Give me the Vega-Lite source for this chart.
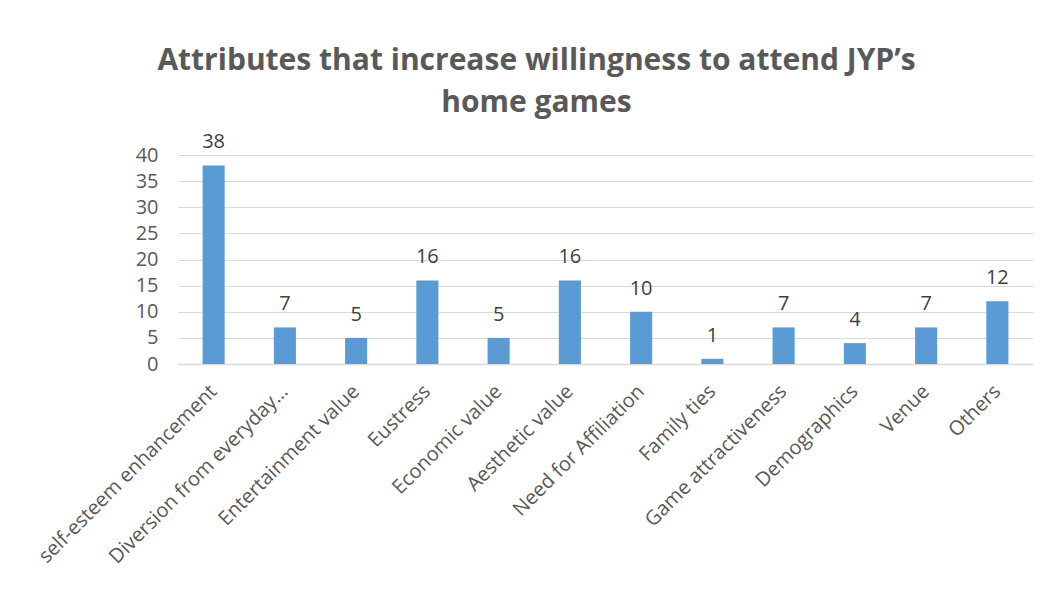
{
  "$schema": "https://vega.github.io/schema/vega-lite/v6.json",
  "autosize": "none",
  "width": 855,
  "height": 209,
  "padding": {"left": 178, "top": 155, "right": 24, "bottom": 225},
  "background": "white",
  "title": {
    "text": ["Attributes that increase willingness to attend JYP’s", "home games"],
    "font": "Open Sans",
    "fontSize": 30,
    "fontWeight": "bold",
    "color": "#595959",
    "anchor": "middle",
    "dx": -69,
    "lineHeight": 42,
    "offset": 14
  },
  "data": {
    "values": [
      {"attribute": "self-esteem enhancement", "count": 38},
      {"attribute": "Diversion from everyday…", "count": 7},
      {"attribute": "Entertainment value", "count": 5},
      {"attribute": "Eustress", "count": 16},
      {"attribute": "Economic value", "count": 5},
      {"attribute": "Aesthetic value", "count": 16},
      {"attribute": "Need for Affiliation", "count": 10},
      {"attribute": "Family ties", "count": 1},
      {"attribute": "Game attractiveness", "count": 7},
      {"attribute": "Demographics", "count": 4},
      {"attribute": "Venue", "count": 7},
      {"attribute": "Others", "count": 12}
    ]
  },
  "encoding": {
    "x": {
      "field": "attribute",
      "type": "nominal",
      "sort": null,
      "scale": {"paddingInner": 0.69, "paddingOuter": 0.345},
      "axis": {
        "title": null,
        "labelAngle": -45,
        "labelAlign": "right",
        "labelBaseline": "middle",
        "labelFont": "Open Sans",
        "labelFontSize": 20,
        "labelColor": "#595959",
        "labelPadding": 24,
        "labelLimit": 400,
        "ticks": false,
        "domainColor": "#d9d9d9",
        "domainWidth": 1.5
      }
    },
    "y": {
      "field": "count",
      "type": "quantitative",
      "scale": {"domain": [0, 40]},
      "axis": {
        "title": null,
        "values": [0, 5, 10, 15, 20, 25, 30, 35, 40],
        "labelFont": "Open Sans",
        "labelFontSize": 20,
        "labelColor": "#595959",
        "labelPadding": 20,
        "ticks": false,
        "domain": false,
        "gridColor": "#d9d9d9",
        "gridWidth": 1.2
      }
    }
  },
  "layer": [
    {"mark": {"type": "bar", "color": "#5B9BD5"}},
    {
      "mark": {
        "type": "text",
        "baseline": "alphabetic",
        "dy": -17,
        "font": "Open Sans",
        "fontSize": 20,
        "color": "#404040"
      },
      "encoding": {"text": {"field": "count", "type": "quantitative"}}
    }
  ],
  "config": {"view": {"stroke": null}}
}
